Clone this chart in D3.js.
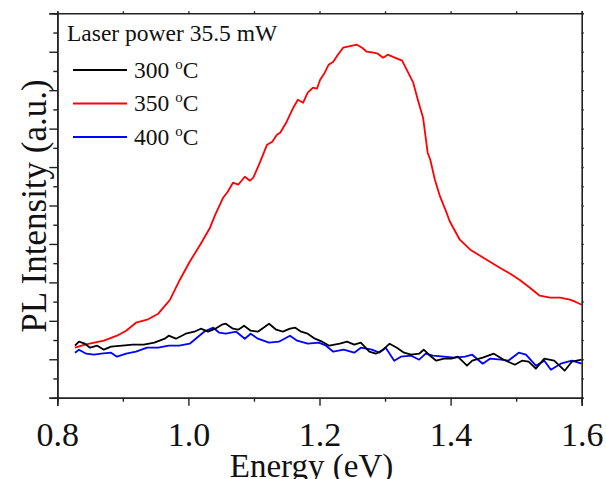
<!DOCTYPE html>
<html><head><meta charset="utf-8">
<script src="https://cdn.jsdelivr.net/npm/d3@7"></script>
<style>body{margin:0;background:#fff}svg{display:block}svg text{font-family:"Liberation Serif","Times New Roman",serif !important;fill:#111}</style>
</head><body><svg id="c" width="606" height="479"></svg>
<script>
const xTicksMajor = [0.8, 1.0, 1.2, 1.4, 1.6];
const xTicksMinor = [0.9, 1.1, 1.3, 1.5];
const legendTitle = "Laser power 35.5 mW";
const seriesNames = ["300", "350", "400"];
const seriesColors = ["#000000", "#ff0000", "#0000ff"];

const energy300 = [0.827,0.833,0.842,0.850,0.861,0.871,0.882,0.899,0.915,0.932,0.948,0.964,0.970,0.981,0.996,1.009,1.019,1.030,1.041,1.051,1.057,1.068,1.076,1.085,1.095,1.106,1.123,1.134,1.144,1.155,1.163,1.172,1.182,1.193,1.204,1.215,1.231,1.242,1.253,1.263,1.276,1.286,1.297,1.307,1.318,1.329,1.340,1.352,1.359,1.367,1.378,1.390,1.401,1.411,1.425,1.433,1.449,1.466,1.481,1.498,1.509,1.519,1.530,1.543,1.558,1.574,1.585,1.600];
const intensity300 = [52,56,54,50,52,48,51,52,53,53,55,59,62,59,64,66,69,66,69,73,74,69,68,72,67,66,74,68,66,69,70,66,64,59,56,52,54,56,53,55,46,44,48,54,50,45,43,44,48,43,37,39,39,41,32,37,40,44,38,33,37,36,29,39,37,27,36,38];

const energy350 = [0.827,0.842,0.871,0.891,0.905,0.920,0.937,0.954,0.967,0.972,0.987,1.002,1.018,1.033,1.041,1.053,1.060,1.068,1.076,1.086,1.094,1.099,1.109,1.120,1.128,1.135,1.140,1.150,1.160,1.167,1.175,1.182,1.190,1.196,1.201,1.208,1.214,1.221,1.228,1.236,1.243,1.250,1.257,1.265,1.272,1.282,1.289,1.297,1.304,1.315,1.326,1.333,1.343,1.350,1.358,1.365,1.369,1.376,1.384,1.392,1.399,1.414,1.430,1.445,1.460,1.475,1.491,1.505,1.521,1.536,1.552,1.567,1.582,1.590,1.600];
const intensity350 = [50,53,57,62,67,75,78,84,94,98,118,136,153,170,183,200,206,215,213,221,217,220,235,253,256,263,265,276,290,298,295,305,310,309,318,325,333,336,343,350,351,352,353,350,346,345,344,340,343,340,337,328,315,298,280,245,238,218,201,188,176,158,148,142,136,130,124,118,110,102,100,100,98,96,93];

const energy400 = [0.827,0.833,0.844,0.856,0.867,0.882,0.891,0.905,0.920,0.937,0.954,0.970,0.986,1.002,1.013,1.024,1.038,1.047,1.057,1.073,1.086,1.095,1.106,1.123,1.138,1.155,1.166,1.182,1.199,1.210,1.221,1.237,1.253,1.263,1.280,1.291,1.301,1.314,1.324,1.340,1.352,1.362,1.373,1.390,1.405,1.422,1.433,1.449,1.460,1.477,1.488,1.504,1.515,1.530,1.543,1.553,1.568,1.585,1.600];
const intensity400 = [45,48,44,43,44,45,41,44,46,50,50,52,52,54,60,66,70,65,64,66,59,64,59,55,56,62,57,54,55,52,46,48,45,50,48,45,50,37,41,42,38,44,42,41,40,41,43,34,39,38,37,45,43,32,37,28,34,37,34];

const series = [
  {name: seriesNames[0], color: seriesColors[0], xs: energy300, ys: intensity300},
  {name: seriesNames[1], color: seriesColors[1], xs: energy350, ys: intensity350},
  {name: seriesNames[2], color: seriesColors[2], xs: energy400, ys: intensity400}
];

const L = 57.3, R = 581.7, T = 13.3, B = 397.7;
const svg = d3.select("#c");
const x = d3.scaleLinear().domain([0.8, 1.6]).range([L, R]);
const y = d3.scaleLinear().domain([0, 384.4]).range([B, T]);
const yTickVals = d3.range(0, 21).map(i => i * 19.22);

const line = d3.line().x(d => x(d[0])).y(d => y(d[1]));
const drawOrder = [1, 2, 0];
drawOrder.forEach(i => {
  const s = series[i];
  svg.append("path").datum(s.xs.map((v, k) => [v, s.ys[k]]))
    .attr("d", line).attr("fill", "none").attr("stroke", s.color)
    .attr("stroke-width", 1.8).attr("stroke-linejoin", "round");
});

const axisColor = "#222";
const gB = svg.append("g").attr("transform", `translate(0,${B})`)
  .call(d3.axisBottom(x).tickValues(xTicksMajor).tickSize(8).tickFormat(d3.format(".1f")));
gB.append("g").call(d3.axisBottom(x).tickValues(xTicksMinor).tickSize(4).tickFormat(""));
svg.append("g").attr("transform", `translate(0,${T})`)
  .call(d3.axisTop(x).tickValues(xTicksMajor.concat(xTicksMinor)).tickSize(2).tickFormat(""));
const gL = svg.append("g").attr("transform", `translate(${L},0)`)
  .call(d3.axisLeft(y).tickValues(yTickVals.filter((d, i) => i % 2 === 0)).tickSize(8).tickFormat(""));
gL.append("g").call(d3.axisLeft(y).tickValues(yTickVals.filter((d, i) => i % 2 === 1)).tickSize(4).tickFormat(""));
svg.append("g").attr("transform", `translate(${R},0)`)
  .call(d3.axisRight(y).tickValues(yTickVals).tickSize(2).tickFormat(""));

svg.selectAll(".domain").attr("stroke", axisColor).attr("stroke-width", 1.6);
svg.selectAll(".tick line").attr("stroke", axisColor).attr("stroke-width", 1.4);
gB.selectAll(".tick text").attr("font-size", 34).attr("fill", "#111").attr("dy", null).attr("y", 48);

svg.append("text").attr("x", (L + R) / 2 - 8).attr("y", 477).attr("text-anchor", "middle")
  .attr("font-size", 33).text("Energy (eV)");
svg.append("text").attr("transform", `translate(46,206) rotate(-90)`)
  .attr("text-anchor", "middle").attr("font-size", 35).text("PL Intensity (a.u.)");

svg.append("text").attr("x", 67).attr("y", 41).attr("font-size", 23.5).text(legendTitle);
series.forEach((s, i) => {
  const ly = 70 + i * 33.5;
  svg.append("line").attr("x1", 73).attr("x2", 127).attr("y1", ly).attr("y2", ly)
    .attr("stroke", s.color).attr("stroke-width", 1.8);
  const t = svg.append("text").attr("x", 134).attr("y", ly + 7.5).attr("font-size", 23.5);
  t.append("tspan").text(s.name + " ");
  t.append("tspan").attr("font-size", 15).attr("dy", -9).text("o");
  t.append("tspan").attr("dy", 9).text("C");
});
</script></body></html>
